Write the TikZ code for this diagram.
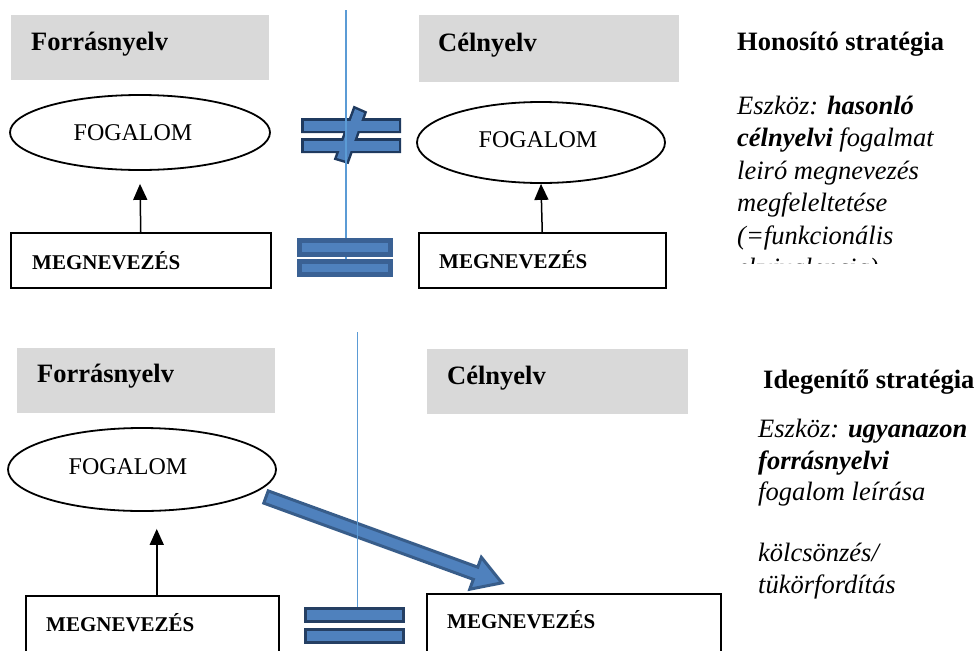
\documentclass[tikz,border=0pt]{standalone}
\usepackage{fontspec}
\setmainfont{Liberation Serif}
\usetikzlibrary{shapes.geometric,arrows.meta}
\definecolor{grayfill}{HTML}{D9D9D9}
\definecolor{vlinecol}{HTML}{5B9BD5}
\definecolor{shapefill}{HTML}{4F81BD}
\definecolor{neqborder}{HTML}{1F3A5F}
\definecolor{eqborderA}{HTML}{3A6194}
\definecolor{eqborderB}{HTML}{253F63}
\definecolor{arrborder}{HTML}{385D8A}
\begin{document}
\begin{tikzpicture}[x=1pt,y=-1pt,
  graybox/.style={fill=grayfill, draw=none, inner sep=0pt, anchor=north west},
  ellnode/.style={ellipse, draw, line width=1.8pt, inner sep=0pt},
  boxnode/.style={draw, line width=1.5pt, inner sep=0pt, anchor=north west},
  hdr/.style={font=\fontsize{26.5}{32}\selectfont\bfseries, inner sep=0pt, anchor=base west},
  fog/.style={font=\fontsize{24}{28}\selectfont, inner sep=0pt, anchor=base},
  meg/.style={font=\fontsize{21}{25}\selectfont\bfseries, inner sep=0pt, anchor=base west},
  side/.style={font=\fontsize{26.5}{32}\selectfont\itshape, inner sep=0pt, anchor=base west},
  arr/.style={line width=1.5pt, -{Triangle[length=16pt,width=14pt]}},
  vl/.style={draw=vlinecol, line width=1.2pt},
  eqbar/.style={fill=shapefill, line join=miter}
]
\useasboundingbox (0,0) rectangle (978,651);
\clip (0,0) rectangle (978,651);

% ================= TOP SECTION =================
\node[graybox, minimum width=258pt, minimum height=65pt] (g1) at (11,15) {};
\node[hdr] (g1t) at (31,50) {Forrásnyelv};
\node[graybox, minimum width=260pt, minimum height=67pt] (g2) at (419,15) {};
\node[hdr] (g2t) at (438,51) {Célnyelv};

\node[ellnode, minimum width=260pt, minimum height=75pt] (e1) at (140,132.5) {};
\node[fog] (e1t) at (133,140) {FOGALOM};
\node[ellnode, minimum width=248pt, minimum height=81pt] (e2) at (541,142.5) {};
\node[fog] (e2t) at (538,147) {FOGALOM};

\node[boxnode, minimum width=260pt, minimum height=55pt] (b1) at (10,232) {};
\node[meg] (b1t) at (32,269) {MEGNEVEZÉS};
\node[boxnode, minimum width=247pt, minimum height=55pt] (b2) at (418,232) {};
\node[meg] (b2t) at (439,268) {MEGNEVEZÉS};

\draw[arr] (b1.north) -- ([yshift=-13pt]e1.south);
\draw[arr] (b2.north) -- (e2.south);

% not-equal sign (union outline)
\path[draw=neqborder, line width=5pt, line join=miter]
  (303.5,120.5) rectangle (398.5,130.5) (303.5,140.5) rectangle (398.5,150.5)
  (355,109) -- (364,113) -- (347,161) -- (337,158) -- cycle;
\fill[shapefill] (303.5,120.5) rectangle (398.5,130.5);
\fill[shapefill] (303.5,140.5) rectangle (398.5,150.5);
\fill[shapefill] (355,109) -- (364,113) -- (347,161) -- (337,158) -- cycle;

\draw[vl] (346,10) -- (346,262);

% equal sign (top)
\path[eqbar, draw=eqborderA, line width=5pt]
  (299.5,240.5) rectangle (390.5,254.5)
  (299.5,261.5) rectangle (390.5,274.5);

% right text (top)
\node[hdr] (s0) at (737,50) {Honosító stratégia};
\begin{scope}
\clip (700,60) rectangle (978,263);
\node[side] (s1) at (737,114) {Eszköz: \textbf{hasonló}};
\node[side] (s2) at (737,146.5) {\textbf{célnyelvi} fogalmat};
\node[side] (s3) at (737,179) {leiró megnevezés};
\node[side] (s4) at (737,211.5) {megfeleltetése};
\node[side] (s5) at (737,244) {(=funkcionális};
\node[side] (s6) at (737,276.5) {ekvivalencia)};
\end{scope}

% ================= BOTTOM SECTION =================
\node[graybox, minimum width=258pt, minimum height=65pt] (g3) at (17,348) {};
\node[hdr] (g3t) at (37,382) {Forrásnyelv};
\node[graybox, minimum width=261pt, minimum height=65pt] (g4) at (427,349) {};
\node[hdr] (g4t) at (447,384) {Célnyelv};

\node[ellnode, minimum width=268pt, minimum height=83pt] (e3) at (142,469.5) {};
\node[fog] (e3t) at (128,474) {FOGALOM};

\node[boxnode, minimum width=253pt, minimum height=70pt] (b5) at (25,595) {};
\node[meg] (b5t) at (46,631) {MEGNEVEZÉS};
\node[boxnode, minimum width=294pt, minimum height=70pt] (b6) at (426,593) {};
\node[meg] (b6t) at (447,628) {MEGNEVEZÉS};

\coordinate (a3) at ([xshift=4.5pt]b5.north);
\draw[arr, shorten >=17pt] (a3) -- (a3 |- e3.south);

% block arrow
\begin{scope}[shift={(266,497)}, rotate=-20]
\path[fill=shapefill, draw=arrborder, line width=3pt, line join=miter]
  (0,-6.5) -- (223,-6.5) -- (223,-17) -- (251,0) -- (223,17) -- (223,6.5) -- (0,6.5) -- cycle;
\end{scope}

\draw[vl, line width=1pt] (357.5,332) -- (357.5,607);

% equal sign (bottom)
\path[eqbar, draw=eqborderB, line width=3pt]
  (305.5,608.5) rectangle (403.5,621.5)
  (305.5,629.5) rectangle (403.5,642.5);

% right text (bottom)
\node[hdr] (u0) at (763,388) {Idegenítő stratégia};
\node[side] (u1) at (758,437) {Eszköz: \textbf{ugyanazon}};
\node[side] (u2) at (758,469) {\textbf{forrásnyelvi}};
\node[side] (u3) at (758,500) {fogalom leírása};
\node[side] (u4) at (758,561) {kölcsönzés/};
\node[side] (u5) at (758,593) {tükörfordítás};
\end{tikzpicture}
\end{document}
